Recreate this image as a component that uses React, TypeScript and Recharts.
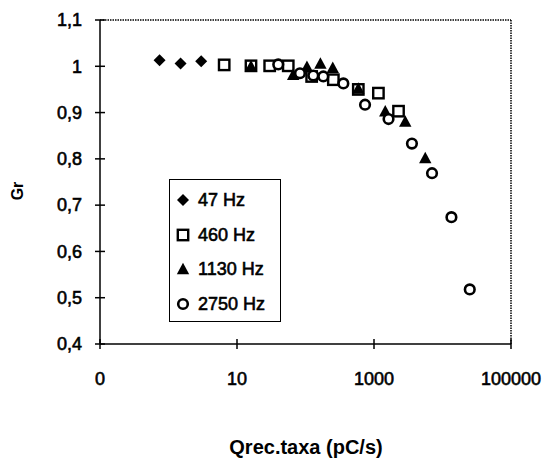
import { ScatterChart, Scatter, XAxis, YAxis, ReferenceLine, Label } from "recharts";

const FONT = '"Liberation Sans", Arial, Helvetica, sans-serif';

// readings per series: x = Qrec.taxa (pC/s), y = Gr
const hz47 = [
  { x: 0.74, y: 1.013 },
  { x: 1.5, y: 1.006 },
  { x: 3.0, y: 1.011 },
];

const hz460 = [
  { x: 6.5, y: 1.003 },
  { x: 16, y: 1.001 },
  { x: 30, y: 1.001 },
  { x: 56, y: 1.001 },
  { x: 123, y: 0.978 },
  { x: 255, y: 0.971 },
  { x: 590, y: 0.95 },
  { x: 1160, y: 0.942 },
  { x: 2280, y: 0.903 },
];

const hz1130 = [
  { x: 16, y: 1.0 },
  { x: 66, y: 0.982 },
  { x: 105, y: 0.999 },
  { x: 165, y: 1.006 },
  { x: 250, y: 0.997 },
  { x: 590, y: 0.952 },
  { x: 1460, y: 0.903 },
  { x: 2860, y: 0.881 },
  { x: 5600, y: 0.802 },
];

const hz2750 = [
  { x: 40, y: 1.004 },
  { x: 83, y: 0.985 },
  { x: 130, y: 0.98 },
  { x: 182, y: 0.978 },
  { x: 357, y: 0.963 },
  { x: 740, y: 0.917 },
  { x: 1630, y: 0.886 },
  { x: 3580, y: 0.833 },
  { x: 7030, y: 0.769 },
  { x: 13500, y: 0.674 },
  { x: 25000, y: 0.518 },
];

const xTicks = [0.1, 10, 1000, 100000];
const yTicks = [0.4, 0.5, 0.6, 0.7, 0.8, 0.9, 1, 1.1];
const legendLabels = ["47 Hz", "460 Hz", "1130 Hz", "2750 Hz"];

const TICK = 5;
const X_GAP = 23;
const Y_GAP = 13;

function fmtY(v: number) {
  return String(Number(v.toFixed(1))).replace(".", ",");
}

function fmtX(v: number) {
  return v < 1 ? "0" : String(v);
}

// scanned print looks heavier than a plain regular face
const heavy = { stroke: "#000", strokeWidth: 0.6 };

function XTick(props: any) {
  const { x, y, payload } = props;
  const axisY = y - TICK - X_GAP;
  return (
    <g>
      <line x1={x} x2={x} y1={axisY} y2={axisY - TICK} stroke="#000" strokeWidth={1.5} />
      <text x={x} y={y} dy="0.71em" textAnchor="middle" fontFamily={FONT} fontSize={18} fill="#000" {...heavy}>
        {fmtX(payload.value)}
      </text>
    </g>
  );
}

function YTick(props: any) {
  const { x, y, payload } = props;
  const axisX = x + TICK + Y_GAP;
  return (
    <g>
      <line x1={axisX} x2={axisX + TICK} y1={y} y2={y} stroke="#000" strokeWidth={1.5} />
      <text x={x} y={y} dy="0.35em" textAnchor="end" fontFamily={FONT} fontSize={18} fill="#000" {...heavy}>
        {fmtY(payload.value)}
      </text>
    </g>
  );
}

function Diamond({ cx, cy, s = 6 }: any) {
  return <polygon points={`${cx},${cy - s} ${cx + s},${cy} ${cx},${cy + s} ${cx - s},${cy}`} fill="#000" />;
}

function Square({ cx, cy, s = 5.2 }: any) {
  return <rect x={cx - s} y={cy - s} width={2 * s} height={2 * s} fill="none" stroke="#000" strokeWidth={2.4} />;
}

function Triangle({ cx, cy, s = 6.2 }: any) {
  return <polygon points={`${cx},${cy - s} ${cx + s},${cy + s * 0.85} ${cx - s},${cy + s * 0.85}`} fill="#000" />;
}

function Circle({ cx, cy, r = 4.8 }: any) {
  return <circle cx={cx} cy={cy} r={r} fill="#fff" stroke="#000" strokeWidth={2.6} />;
}

const legendShapes = [Diamond, Square, Triangle, Circle];

function ChartLegend() {
  return (
    <div
      style={{
        position: "absolute",
        left: 169,
        top: 179,
        width: 110,
        height: 141,
        border: "1.5px solid #000",
        background: "#fff",
      }}
    >
      {legendLabels.map((label, i) => {
        const Shape = legendShapes[i];
        return (
          <svg
            key={label}
            width={108}
            height={24}
            style={{ position: "absolute", left: 4, top: 8 + i * 34.7 }}
          >
            <Shape cx={9} cy={12} />
            <text x={24} y={12} dy="0.35em" fontFamily={FONT} fontSize={18} fill="#000" {...heavy}>
              {label}
            </text>
          </svg>
        );
      })}
    </div>
  );
}

export default function App() {
  return (
    <div style={{ position: "absolute", left: 0, top: 0, width: 552, height: 469, background: "#fff" }}>
      <ScatterChart width={552} height={469} margin={{ top: 20, right: 41, bottom: 65, left: 0 }}>
        <XAxis
          dataKey="x"
          type="number"
          scale="log"
          domain={[0.1, 100000]}
          ticks={xTicks}
          interval={0}
          height={60}
          tickSize={TICK}
          tickMargin={X_GAP}
          tick={<XTick />}
          axisLine={{ stroke: "#000", strokeWidth: 1.5 }}
          tickLine={{ stroke: "#000", strokeWidth: 1.5 }}
        >
          <Label
            content={() => (
              <text x={306} y={447} dy="0.35em" textAnchor="middle" fontFamily={FONT} fontSize={20} fontWeight="bold" fill="#000">
                Qrec.taxa (pC/s)
              </text>
            )}
          />
        </XAxis>
        <YAxis
          dataKey="y"
          type="number"
          domain={[0.4, 1.1]}
          ticks={yTicks}
          interval={0}
          width={100}
          tickSize={TICK}
          tickMargin={Y_GAP}
          tick={<YTick />}
          axisLine={{ stroke: "#000", strokeWidth: 1.5 }}
          tickLine={{ stroke: "#000", strokeWidth: 1.5 }}
        >
          <Label
            content={() => (
              <text
                x={17}
                y={191}
                dy="0.35em"
                textAnchor="middle"
                transform="rotate(-90 17 191)"
                fontFamily={FONT}
                fontSize={16}
                fontWeight="bold"
                fill="#000"
              >
                Gr
              </text>
            )}
          />
        </YAxis>
        <ReferenceLine y={1.1} stroke="#000" strokeWidth={1.5} strokeDasharray="1.5 1" />
        <ReferenceLine x={100000} stroke="#000" strokeWidth={1.5} strokeDasharray="1.5 1" />
        <Scatter name="47 Hz" data={hz47} shape={<Diamond />} isAnimationActive={false} />
        <Scatter name="460 Hz" data={hz460} shape={<Square />} isAnimationActive={false} />
        <Scatter name="1130 Hz" data={hz1130} shape={<Triangle />} isAnimationActive={false} />
        <Scatter name="2750 Hz" data={hz2750} shape={<Circle />} isAnimationActive={false} />
      </ScatterChart>
      <ChartLegend />
    </div>
  );
}
